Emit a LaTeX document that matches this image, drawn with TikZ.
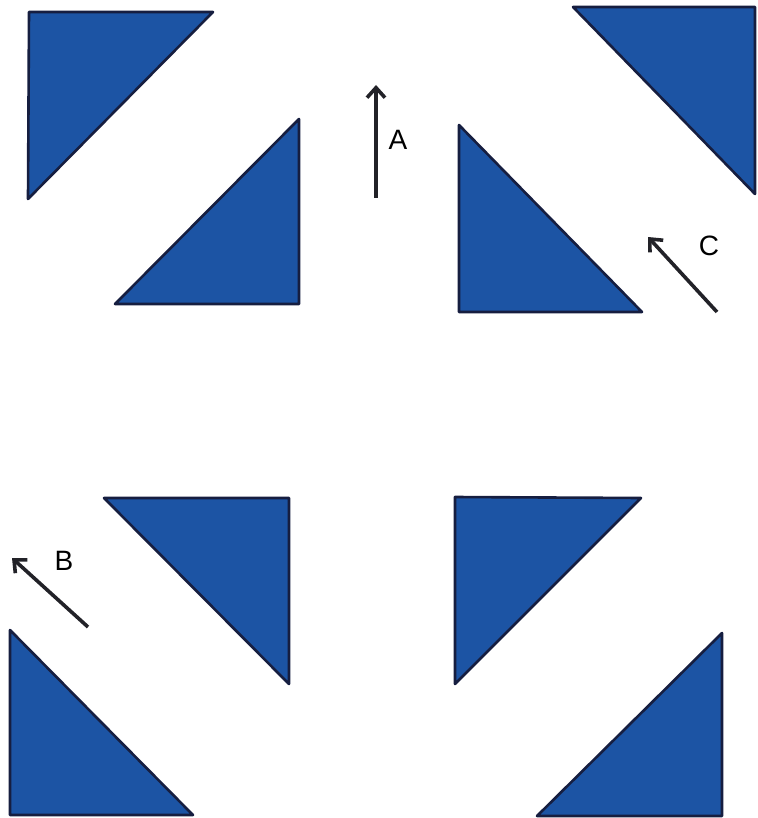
\documentclass[tikz,border=0pt]{standalone}
\usepackage{fontspec}
\setmainfont{Liberation Sans}
\usetikzlibrary{arrows.meta}
\definecolor{triblue}{RGB}{28,84,164}
\definecolor{trinavy}{RGB}{22,30,64}
\definecolor{arrowgray}{RGB}{34,34,40}
\tikzset{
  tri/.style={fill=triblue, draw=trinavy, line width=2.6pt, line join=round},
  motion/.style={draw=arrowgray, line width=3.6pt, -{Straight Barb[length=10pt, width=18pt, line width=3.6pt]}},
  lbl/.style={font=\fontsize{28}{32}\selectfont, text=black, inner sep=0pt}
}
\begin{document}
\begin{tikzpicture}[x=1pt, y=-1pt]
\useasboundingbox (0,0) rectangle (757,818);
% top half
\draw[tri] (29,12) -- (213,12) -- (28,199) -- cycle;
\draw[tri] (299,119) -- (299,304) -- (115,304) -- cycle;
\draw[tri] (573,7) -- (755,7) -- (755,194) -- cycle;
\draw[tri] (459,125) -- (459,312) -- (642,312) -- cycle;
% bottom half
\draw[tri] (104,498) -- (289,498) -- (289,684) -- cycle;
\draw[tri] (455,497) -- (641,498) -- (455,684) -- cycle;
\draw[tri] (10,630) -- (10,815) -- (193,815) -- cycle;
\draw[tri] (722,633) -- (722,816) -- (537,816) -- cycle;
% arrows
\coordinate (atail) at (376,198);
\coordinate (ahead) at (376,85);
\coordinate (ctail) at (717,312);
\coordinate (chead) at (648,237);
\coordinate (btail) at (88,627);
\coordinate (bhead) at (12,558);
\draw[motion] (atail) -- (ahead);
\draw[motion] (ctail) -- (chead);
\draw[motion] (btail) -- (bhead);
\node[lbl] (la) at (398,140) {A};
\node[lbl] (lc) at (709,246) {C};
\node[lbl] (lb) at (64,561) {B};
\end{tikzpicture}
\end{document}
